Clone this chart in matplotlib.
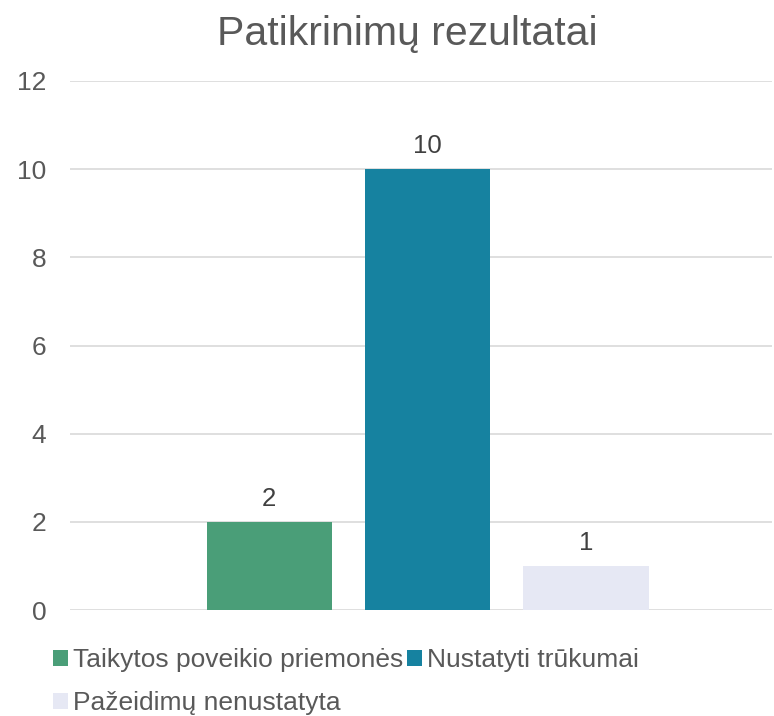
import numpy as np
import matplotlib.pyplot as plt

plt.rcParams['font.family'] = ['Liberation Sans', 'DejaVu Sans']

series = ['Taikytos poveikio priemonės', 'Nustatyti trūkumai', 'Pažeidimų nenustatyta']
values = [2, 10, 1]
colors = ['#4A9E78', '#1682A0', '#E6E8F4']
yticks = [0, 2, 4, 6, 8, 10, 12]

text_col = '#595959'

fig = plt.figure(figsize=(7.74, 7.16), dpi=100)
ax = fig.add_axes([70 / 774, 106 / 716, 702 / 774, 529 / 716])

offsets = np.array([-0.225, 0.0, 0.225])
width = 0.178
bars = []
for i, (name, v, c) in enumerate(zip(series, values, colors)):
    b = ax.bar(offsets[i], v, width=width, color=c, label=name, zorder=3)
    bars.append(b)
    ax.text(offsets[i], v + 0.25, str(v), ha='center', va='bottom',
            fontsize=18.5, color='#404040')

ax.set_xlim(-0.508, 0.489)
ax.set_ylim(0, 12)
ax.set_yticks(yticks)
ax.set_xticks([])
ax.tick_params(axis='y', length=0, pad=17, labelsize=19, labelcolor=text_col)
ax.grid(axis='y', color='#D9D9D9', linewidth=1.2, zorder=0)
for s in ax.spines.values():
    s.set_visible(False)

fig.text(407 / 774, 1 - 45 / 716, 'Patikrinimų rezultatai', ha='center', va='baseline',
         fontsize=29.5, color=text_col)

# ncol=2 fills column-wise, so reorder to get 1,2 on top row and 3 below
order = [0, 2, 1]
leg = fig.legend([bars[i] for i in order], [series[i] for i in order],
                 loc='upper left', bbox_to_anchor=(53 / 774, 1 - 648 / 716),
                 ncol=2, frameon=False, fontsize=19, handlelength=0.55,
                 handleheight=0.55, handletextpad=0.2, columnspacing=0.15,
                 labelspacing=0.72, borderaxespad=0, borderpad=0)
for t in leg.get_texts():
    t.set_color(text_col)

fig.savefig('out.png', dpi=100, facecolor='white')
